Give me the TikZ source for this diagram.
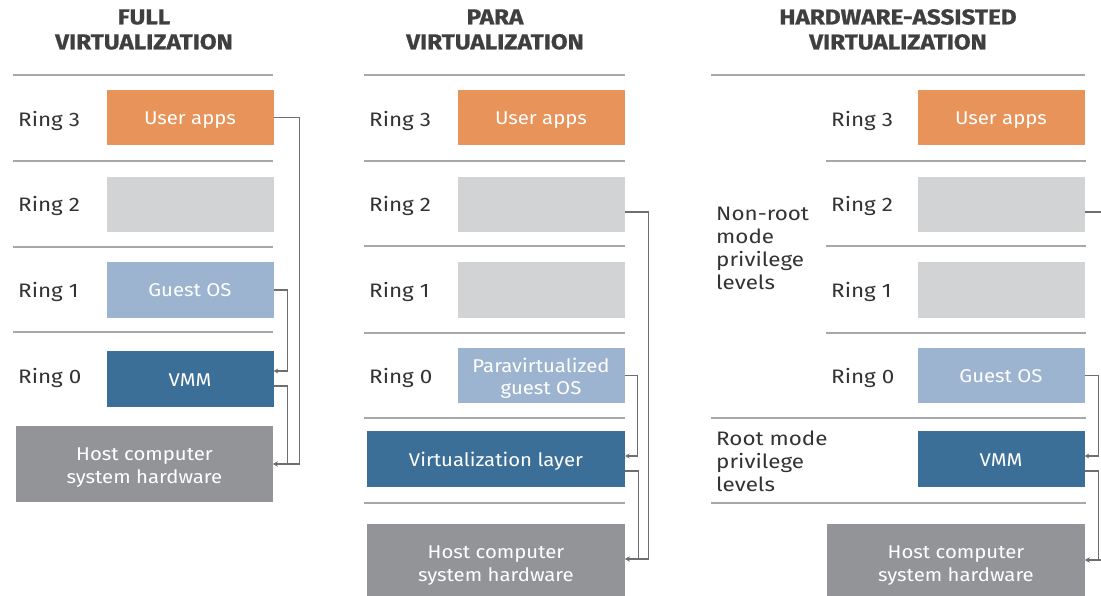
\documentclass[tikz,border=0pt]{standalone}
\usepackage{fontspec}
\setmainfont{Fira Sans}
\newfontfamily\headfont{Fira Sans}[FakeStretch=1.13, BoldFeatures={FakeBold=0.8}]
\newfontfamily\labelfont{Fira Sans}[FakeStretch=1.15]
\newfontfamily\layerfont{Fira Sans}[FakeStretch=1.10]
\usetikzlibrary{arrows.meta,calc}

\definecolor{appsorange}{HTML}{E8935A}
\definecolor{emptygray}{HTML}{D1D3D4}
\definecolor{guestblue}{HTML}{9CB4CF}
\definecolor{vmmblue}{HTML}{3C6F98}
\definecolor{hostgray}{HTML}{929497}
\definecolor{rulegray}{HTML}{A6A8AB}
\definecolor{linkgray}{HTML}{6D6E71}
\definecolor{labeltext}{HTML}{333333}
\definecolor{headtext}{HTML}{3F3F3F}

% extra height on the first line of two-line layer texts
\newcommand\highstrut{\rule{0pt}{19.5pt}}

\tikzset{
  heading/.style={align=center, text=headtext, inner sep=0,
    font=\headfont\bfseries\fontsize{21.5}{25}\selectfont},
  ringlabel/.style={anchor=base west, inner sep=0, text=labeltext,
    font=\labelfont\fontsize{19.5}{23}\selectfont},
  modelabel/.style={anchor=west, align=left, inner sep=0, text=labeltext,
    font=\labelfont\fontsize{19.5}{23}\selectfont},
  layer/.style={rectangle, inner sep=0, align=center, text=white,
    font=\layerfont\fontsize{18.5}{22.5}\selectfont},
  oneline/.style={text height=14pt, text depth=0pt},
  narrow/.style={layer, minimum width=167pt, minimum height=55pt},
  wide/.style={layer, minimum width=258pt},
  divider/.style={draw=rulegray, line width=1.8pt},
  link/.style={draw=linkgray, line width=1.1pt,
    -{Stealth[length=4.5pt,width=5pt]}},
}

\begin{document}
\begin{tikzpicture}[x=1pt,y=-1pt]
\useasboundingbox (0,0) rectangle (1101,596);
\clip (0,0) rectangle (1101,596);

% ---------------- Full virtualization ----------------
\node[heading] (head1) at (144,29.5) {FULL\\VIRTUALIZATION};
\foreach \y in {75,161,247,332} \draw[divider] (13,\y) -- (273,\y);
\node[ringlabel] (ring3a) at (18,126.5) {Ring 3};
\node[ringlabel] (ring2a) at (18,212) {Ring 2};
\node[ringlabel] (ring1a) at (18,297.5) {Ring 1};
\node[ringlabel] (ring0a) at (18,383) {Ring 0};

\node[narrow, oneline, fill=appsorange] (apps1) at (190,117.5) {User apps};
\node[narrow, fill=emptygray] (emptyA2) at (190,204.5) {};
\node[narrow, oneline, fill=guestblue] (guest1) at (190,290) {Guest OS};
\node[narrow, oneline, fill=vmmblue, minimum height=56pt] (vmm1) at (190,379) {VMM};
\node[wide, fill=hostgray, minimum width=257pt, minimum height=76pt]
  (host1) at (144.5,464) {\highstrut Host computer\\system hardware};

\draw[link] (apps1.east) -- ++(26,0) |- (host1.east);
\draw[link] (guest1.east) -- ++(14,0) |- ($(vmm1.east)+(0,-8)$);
\draw[link] ($(vmm1.east)+(0,7)$) -- ++(14,0) |- (host1.east);

% ---------------- Para virtualization ----------------
\node[heading] (head2) at (495,29.5) {PARA\\VIRTUALIZATION};
\foreach \y in {75,161,246,333,418,503} \draw[divider] (364,\y) -- (625,\y);
\node[ringlabel] (ring3b) at (369,126.5) {Ring 3};
\node[ringlabel] (ring2b) at (369,212) {Ring 2};
\node[ringlabel] (ring1b) at (369,297.5) {Ring 1};
\node[ringlabel] (ring0b) at (369,383) {Ring 0};

\node[narrow, oneline, fill=appsorange] (apps2) at (541,117.5) {User apps};
\node[narrow, fill=emptygray] (emptyB2) at (541,204.5) {};
\node[narrow, fill=emptygray] (emptyB1) at (541,290) {};
\node[narrow, fill=guestblue] (pguest) at (541,375.5) {\highstrut Paravirtualized\\guest OS};
\node[wide, oneline, fill=vmmblue, minimum height=56pt] (vlayer) at (496,459) {Virtualization layer};
\node[wide, fill=hostgray, minimum height=76pt] (host2) at (496,562) {\highstrut Host computer\\system hardware};

\draw[link] ($(emptyB2.east)+(0,7.5)$) -- ++(24,0) |- ($(host2.east)+(0,-3)$);
\draw[link] (pguest.east) -- ++(13,0) |- ($(vlayer.east)+(0,-3)$);
\draw[link] ($(vlayer.east)+(0,12)$) -- ++(13,0) |- ($(host2.east)+(0,-3)$);

% ---------------- Hardware-assisted virtualization ----------------
\node[heading] (head3) at (898,29.5) {HARDWARE-ASSISTED\\VIRTUALIZATION};
\draw[divider] (711,75) -- (1085,75);
\foreach \y in {161,246,333} \draw[divider] (826,\y) -- (1086,\y);
\foreach \y in {418,503} \draw[divider] (711,\y) -- (1086,\y);
\node[ringlabel] (ring3c) at (831,126.5) {Ring 3};
\node[ringlabel] (ring2c) at (831,212) {Ring 2};
\node[ringlabel] (ring1c) at (831,297.5) {Ring 1};
\node[ringlabel] (ring0c) at (831,383) {Ring 0};
\node[modelabel] (nonroot) at (716,248) {Non-root\\mode\\privilege\\levels};
\node[modelabel] (rootmode) at (716,461.5) {Root mode\\privilege\\levels};

\node[narrow, oneline, fill=appsorange] (apps3) at (1001,117.5) {User apps};
\node[narrow, fill=emptygray] (emptyC2) at (1001,204.5) {};
\node[narrow, fill=emptygray] (emptyC1) at (1001,290) {};
\node[narrow, oneline, fill=guestblue] (guest3) at (1001,375.5) {Guest OS};
\node[narrow, oneline, fill=vmmblue, minimum height=56pt] (vmm3) at (1001,459) {VMM};
\node[wide, fill=hostgray, minimum height=76pt] (host3) at (956,562) {\highstrut Host computer\\system hardware};

\draw[link] ($(emptyC2.east)+(0,7.5)$) -- ++(26,0) |- ($(host3.east)+(0,-2)$);
\draw[link] (guest3.east) -- ++(14,0) |- ($(vmm3.east)+(0,-3)$);
\draw[link] ($(vmm3.east)+(0,12)$) -- ++(14,0) |- ($(host3.east)+(0,-2)$);
\end{tikzpicture}
\end{document}
